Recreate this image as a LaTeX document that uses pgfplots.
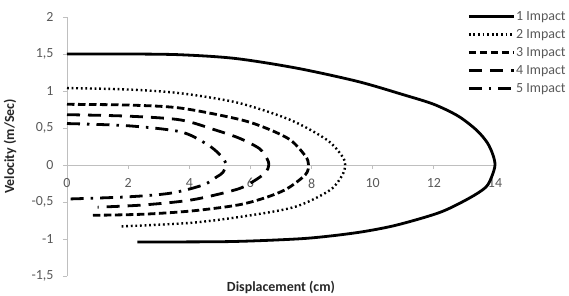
\documentclass[border=0pt]{standalone}
\usepackage{fontspec}
\setmainfont{Carlito}
\usepackage{pgfplots}
\pgfplotsset{compat=1.18}
\definecolor{axgray}{HTML}{BFBFBF}
\definecolor{txtgray}{HTML}{595959}
\begin{document}
\begin{tikzpicture}
\path[use as bounding box] (-67bp,-20bp) rectangle (502bp,276bp);
\begin{axis}[
  scale only axis,
  width=428bp, height=259bp,
  xmin=0, xmax=14, ymin=-1.5, ymax=2,
  axis y line=left, axis x line=middle,
  axis line style={axgray, line width=0.8bp, -},
  hide obscured x ticks=false, hide obscured y ticks=false,
  xtick={0,2,...,14}, ytick={-1.5,-1,...,2},
  tick align=outside, major tick length=4bp,
  tick style={axgray, line width=0.8bp},
  tick label style={font=\fontsize{14}{16}\selectfont, text=txtgray},
  /pgf/number format/assume math mode=true,
  yticklabel style={/pgf/number format/use comma, /pgf/number format/fixed, /pgf/number format/precision=1, xshift=-6bp},
  xticklabel style={yshift=-6bp},
  xlabel={\bfseries Displacement (cm)},
  ylabel={\bfseries Velocity (m/Sec)},
  xlabel style={at={(axis description cs:0.5,-0.046)}, anchor=center, font=\fontsize{14}{16}\selectfont, text=black!85},
  ylabel style={at={(axis description cs:-0.133,0.5)}, anchor=center, font=\fontsize{14}{16}\selectfont, text=black!85},
  legend style={at={(rel axis cs:0.935,1.031)}, anchor=north west, draw=none, fill=none,
    font=\fontsize{14}{16}\selectfont, text=txtgray, row sep=3bp, inner sep=0pt,
    nodes={inner sep=1bp, text height=10bp, text depth=3bp}},
  legend cell align=left,
  legend image code/.code={\draw[#1] (0bp,0bp) -- (45bp,0bp);},
  clip=false,
]
\addplot[black, line width=2.8bp, smooth, tension=0.5] coordinates {
(0,1.5)(2,1.5)(3.7,1.49)(5.5,1.44)(7.5,1.31)(9.5,1.13)(11,0.95)(12,0.82)(12.8,0.66)(13.4,0.47)(13.75,0.3)(13.93,0.14)(14,0)
(13.9,-0.15)(13.7,-0.3)(13.15,-0.45)(12.2,-0.64)(10.8,-0.81)(9.7,-0.9)(8.6,-0.96)(7.5,-1.0)(5.3,-1.035)(2.3,-1.04)};
\addlegendentry{1 Impact}
\addplot[black, line width=2.4bp, smooth, tension=0.5, dash pattern=on 1.8bp off 2.8bp] coordinates {
(0,1.04)(2,1.02)(3.7,0.97)(5.6,0.84)(7.3,0.61)(8.5,0.34)(9.0,0.12)(9.1,0)(9.0,-0.14)(8.6,-0.34)(7.5,-0.56)(6.0,-0.68)(4.1,-0.78)(1.75,-0.83)};
\addlegendentry{2 Impact}
\addplot[black, line width=2.8bp, smooth, tension=0.5, dash pattern=on 7.5bp off 3.5bp] coordinates {
(0,0.82)(2,0.81)(3.7,0.77)(5.6,0.62)(6.5,0.5)(7.3,0.34)(7.8,0.12)(7.9,0)(7.8,-0.13)(7.2,-0.32)(6.5,-0.44)(5.6,-0.54)(4.1,-0.62)(2.5,-0.665)(0.85,-0.68)};
\addlegendentry{3 Impact}
\addplot[black, line width=2.8bp, smooth, tension=0.5, dash pattern=on 13bp off 8bp] coordinates {
(0,0.68)(2,0.66)(3.7,0.61)(4.8,0.48)(5.65,0.36)(6.3,0.22)(6.55,0.08)(6.6,0)(6.5,-0.1)(6.1,-0.22)(5.55,-0.33)(4.1,-0.47)(2.5,-0.54)(1.0,-0.57)};
\addlegendentry{4 Impact}
\addplot[black, line width=2.8bp, smooth, tension=0.5, dash pattern=on 13bp off 7bp on 2.5bp off 7bp] coordinates {
(0,0.56)(2,0.53)(3.7,0.45)(4.5,0.3)(4.9,0.18)(5.15,0.06)(5.2,0)(5.1,-0.1)(4.9,-0.16)(4.45,-0.27)(3.4,-0.38)(2,-0.43)(0,-0.46)};
\addlegendentry{5 Impact}
\end{axis}
\end{tikzpicture}
\end{document}
